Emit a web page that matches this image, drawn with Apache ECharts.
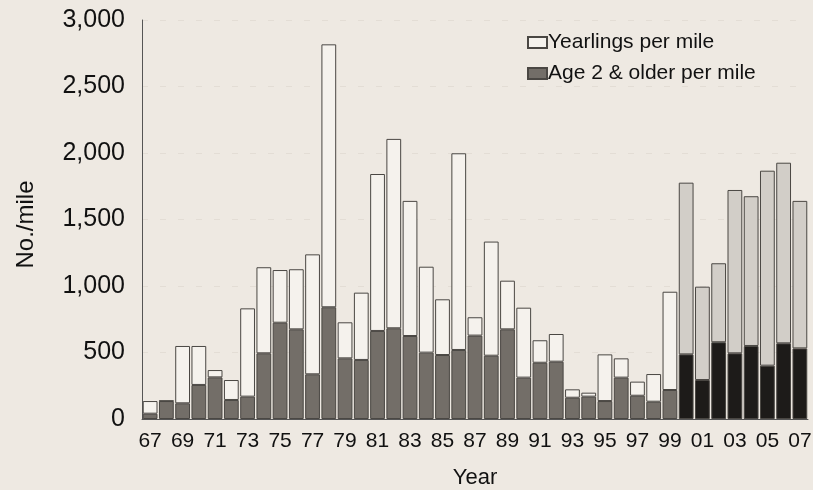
<!DOCTYPE html>
<html>
<head>
<meta charset="utf-8">
<script src="https://cdn.jsdelivr.net/npm/echarts@6/dist/echarts.min.js"></script>
<style>
  html, body { margin: 0; padding: 0; background: #eee9e2; }
  #chart { width: 813px; height: 490px; }
</style>
</head>
<body>
<div id="chart"></div>
<script>
// Survey years 1967–2007 (two-digit labels)
const years = ['67','68','69','70','71','72','73','74','75','76','77','78','79','80','81','82','83','84','85','86','87',
               '88','89','90','91','92','93','94','95','96','97','98','99','00','01','02','03','04','05','06','07'];

// Age 2 & older fish per mile
const age2Older = [40,135,118,256,313,143,168,494,724,674,336,840,456,444,662,682,624,499,481,519,627,
                   476,674,311,423,431,160,168,135,311,175,130,218,486,293,577,494,549,401,569,531];

// Yearlings per mile (stacked on top)
const yearlings = [95,3,431,293,55,150,664,647,396,452,902,1977,271,506,1180,1424,1016,646,419,1479,138,
                   858,366,526,169,208,63,30,351,145,106,208,739,1291,702,594,1228,1126,1466,1358,1109];

// Y axis ticks
const yMin = 0, yMax = 3000, yStep = 500;

// From 2000 onward the bars are drawn in a different shade
const recentFrom = years.indexOf('00');

const FONT = 'Liberation Sans, Arial, sans-serif';
const edge = '#4a4743';

function styled(values, oldFill, newFill) {
  return values.map((v, i) => ({
    value: v,
    itemStyle: { color: i >= recentFrom ? newFill : oldFill }
  }));
}

const chart = echarts.init(document.getElementById('chart'));
chart.setOption({
  backgroundColor: '#eee9e2',
  animation: false,
  textStyle: { fontFamily: FONT, color: '#111' },
  grid: { left: 142, right: 5, top: 20, bottom: 71, containLabel: false, outerBoundsMode: 'none' },
  legend: {
    orient: 'vertical',
    left: 522, top: 27,
    itemWidth: 19, itemHeight: 11, itemGap: 10,
    icon: 'rect',
    textStyle: { fontSize: 21, color: '#111', fontFamily: FONT, padding: [0, 0, 0, -4] },
    data: ['Yearlings per mile', 'Age 2 & older per mile']
  },
  xAxis: {
    type: 'category',
    data: years,
    name: 'Year',
    nameLocation: 'middle',
    nameGap: 48,
    nameTextStyle: { fontSize: 22, color: '#111' },
    axisLine: { show: true, lineStyle: { color: '#555', width: 1 } },
    axisTick: { show: false },
    axisLabel: { interval: 1, fontSize: 21, color: '#111', margin: 12 },
    splitLine: { show: false }
  },
  yAxis: {
    type: 'value',
    min: yMin, max: yMax, interval: yStep,
    name: 'No./mile',
    nameLocation: 'middle',
    nameGap: 104,
    nameRotate: 90,
    nameTextStyle: { fontSize: 24, color: '#111', padding: [0, 10, 0, 0] },
    axisLine: { show: true, lineStyle: { color: '#555', width: 1 } },
    axisTick: { show: false },
    axisLabel: {
      fontSize: 25, color: '#111', margin: 17,
      formatter: v => v.toLocaleString('en-US')
    },
    splitLine: { show: true, lineStyle: { color: '#e3ddd5', type: [6, 12], width: 1 } }
  },
  series: [
    {
      name: 'Age 2 & older per mile',
      type: 'bar',
      stack: 'fish',
      barCategoryGap: '9%',
      itemStyle: { color: '#736e68', borderColor: edge, borderWidth: 1 },
      data: styled(age2Older, '#736e68', '#1d1b19')
    },
    {
      name: 'Yearlings per mile',
      type: 'bar',
      stack: 'fish',
      barCategoryGap: '9%',
      itemStyle: { color: '#f5f2ed', borderColor: edge, borderWidth: 1 },
      data: styled(yearlings, '#f5f2ed', '#d2cec8')
    }
  ]
});
</script>
</body>
</html>
